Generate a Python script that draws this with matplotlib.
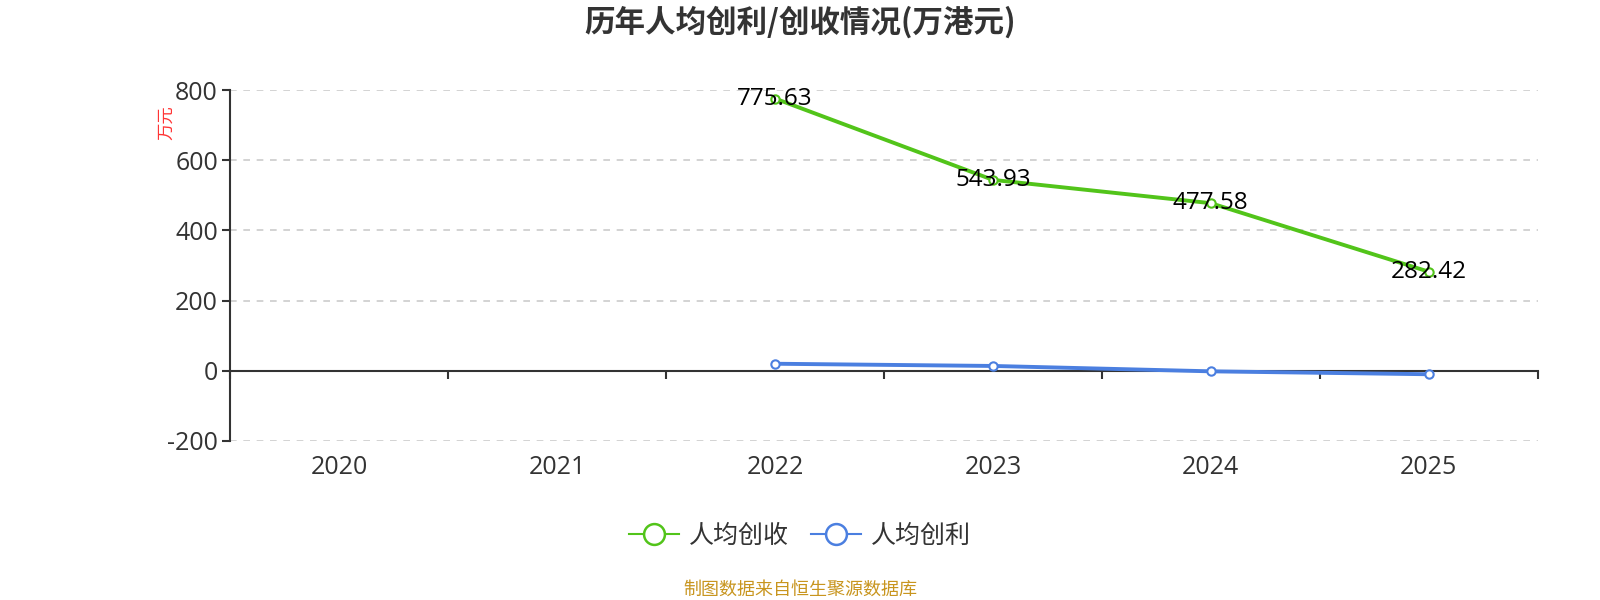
import matplotlib.pyplot as plt
from matplotlib.transforms import blended_transform_factory
from matplotlib.lines import Line2D

plt.rcParams['font.family'] = ['Open Sans', 'Noto Sans CJK SC', 'DejaVu Sans']

years = ['2020', '2021', '2022', '2023', '2024', '2025']
revenue_idx = [2, 3, 4, 5]
revenue_per_head = [775.63, 543.93, 477.58, 282.42]
profit_idx = [2, 3, 4, 5]
profit_per_head = [20.1, 13.8, -1.5, -9.8]
yticks = [-200, 0, 200, 400, 600, 800]

green = '#52c41a'
blue = '#4b7fe0'
cjk = ['Noto Sans CJK SC', 'DejaVu Sans']

fig = plt.figure(figsize=(16, 6), dpi=100)
ax = fig.add_axes([0.144, 0.265, 0.817, 0.585])

ax.plot(revenue_idx, revenue_per_head, color=green, lw=2.8, marker='o', ms=6,
        mfc='white', mec=green, mew=1.5, zorder=3)
ax.plot(profit_idx, profit_per_head, color=blue, lw=2.8, marker='o', ms=6,
        mfc='white', mec=blue, mew=1.5, zorder=3)

for x, v in zip(revenue_idx, revenue_per_head):
    ax.text(x, v, f'{v:.2f}', ha='center', va='center', fontsize=17.5,
            color='black', zorder=5)

ax.set_xlim(-0.5, 5.5)
ax.set_ylim(-200, 800)
ax.set_yticks(yticks)
ax.set_yticklabels([str(t) for t in yticks], fontsize=18, color='#333333')
for t in yticks:
    if t != 0:
        ax.axhline(t, color='#cccccc', lw=1.2, ls=(0, (4, 4)), zorder=1)

ax.spines['top'].set_visible(False)
ax.spines['right'].set_visible(False)
ax.spines['left'].set_color('#333333')
ax.spines['left'].set_linewidth(1.5)
ax.spines['bottom'].set_position(('data', 0))
ax.spines['bottom'].set_color('#333333')
ax.spines['bottom'].set_linewidth(1.5)
ax.tick_params(axis='y', length=6, width=1.5, color='#333333', pad=3)
ax.set_xticks([i - 0.5 for i in range(len(years) + 1)])
ax.set_xticklabels([])
ax.tick_params(axis='x', length=6, width=1.5, color='#333333')

trans = blended_transform_factory(ax.transData, ax.transAxes)
for i, y in enumerate(years):
    ax.text(i, -0.075, y, transform=trans, ha='center', va='center',
            fontsize=18, color='#333333')

fig.text(0.104, 0.795, '万元', rotation=90, ha='center', va='center',
         fontsize=12.5, color='#ff3333', family=cjk)

fig.text(0.5, 0.962, '历年人均创利/创收情况(万港元)', ha='center', va='center',
         fontsize=22, fontweight='bold', color='#333333', family=cjk)

handles = [
    Line2D([], [], color=green, lw=1.5, marker='o', ms=15, mfc='white', mec=green, mew=1.8),
    Line2D([], [], color=blue, lw=1.5, marker='o', ms=15, mfc='white', mec=blue, mew=1.8),
]
fig.legend(handles, ['人均创收', '人均创利'], loc='center', bbox_to_anchor=(0.5, 0.107),
           ncol=2, frameon=False, handlelength=2.0, columnspacing=0.9,
           handletextpad=0.4, labelcolor='#333333',
           prop={'family': cjk, 'size': 18})

fig.text(0.5, 0.017, '制图数据来自恒生聚源数据库', ha='center', va='center',
         fontsize=13, color='#c8951e', family=cjk)

fig.savefig('out.png')
